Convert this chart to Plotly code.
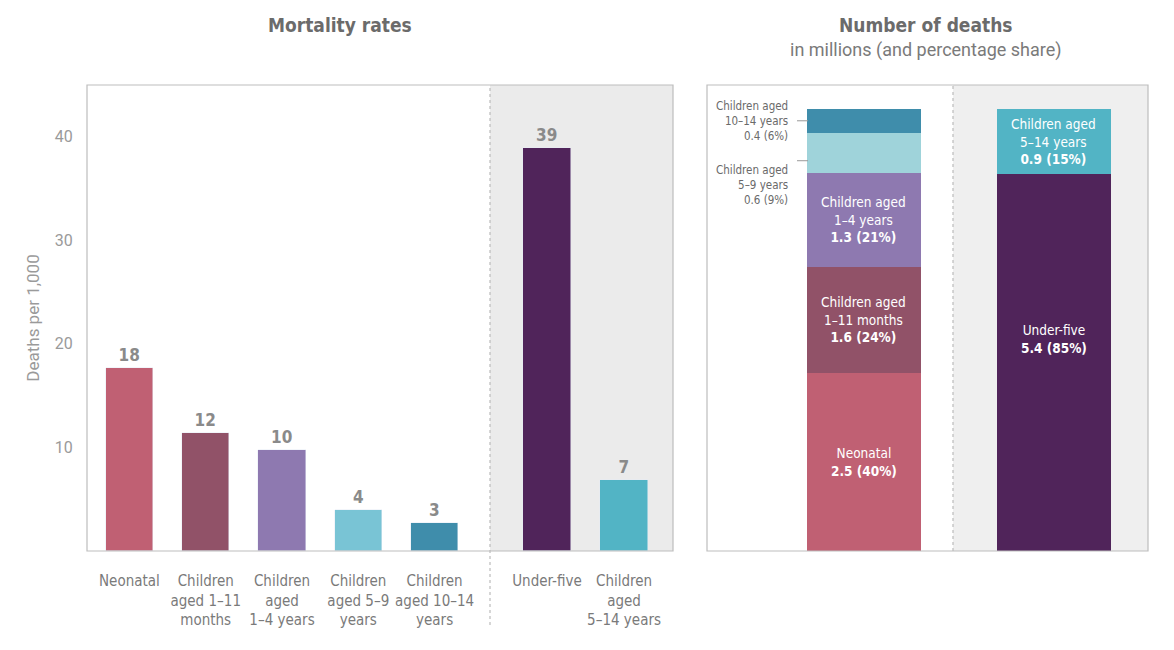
import plotly.graph_objects as go

W, H = 1174, 650
FONT = "Liberation Sans Narrow, DejaVu Sans Condensed, Roboto, sans-serif"

# ---- data: mortality rates (deaths per 1,000) ----
rate_cats_a = ["Neonatal", "Children<br>aged 1–11<br>months", "Children<br>aged<br>1–4 years",
               "Children<br>aged 5–9<br>years", "Children<br>aged 10–14<br>years"]
rate_vals_a = [17.7, 11.4, 9.8, 4.0, 2.7]
rate_lbls_a = ["18", "12", "10", "4", "3"]
rate_cols_a = ["#C06073", "#915268", "#8E79B0", "#79C4D5", "#3F8DAB"]

rate_cats_b = ["Under-five", "Children<br>aged<br>5–14 years"]
rate_vals_b = [38.9, 6.9]
rate_lbls_b = ["39", "7"]
rate_cols_b = ["#50245A", "#52B4C5"]

# ---- data: number of deaths (millions) ----
death_cats = ["Age groups", "Broad groups"]
seg_names_left = ["Neonatal", "Children aged 1–11 months", "Children aged 1–4 years",
                  "Children aged 5–9 years", "Children aged 10–14 years"]
seg_vals_left = [2.54, 1.51, 1.34, 0.57, 0.34]
seg_lbls_left = ["2.5 (40%)", "1.6 (24%)", "1.3 (21%)", "0.6 (9%)", "0.4 (6%)"]
seg_cols_left = ["#C06073", "#915268", "#8E79B0", "#9FD3DA", "#3F8DAB"]

seg_names_right = ["Under-five", "Children aged 5–14 years"]
seg_vals_right = [5.37, 0.93]
seg_lbls_right = ["5.4 (85%)", "0.9 (15%)"]
seg_cols_right = ["#50245A", "#52B4C5"]

def px(x):
    return x / W

def py(y):
    return 1 - y / H

fig = go.Figure()

# left panel, two groups
fig.add_trace(go.Bar(x=rate_cats_a, y=rate_vals_a, text=rate_lbls_a, marker_color=rate_cols_a,
                     width=0.62, textposition="outside", cliponaxis=False,
                     textfont=dict(family=FONT, size=17, color="#8A8A8A"),
                     texttemplate="<b>%{text}</b>", xaxis="x", yaxis="y", showlegend=False,
                     hoverinfo="x+y"))
fig.add_trace(go.Bar(x=rate_cats_b, y=rate_vals_b, text=rate_lbls_b, marker_color=rate_cols_b,
                     width=0.62, textposition="outside", cliponaxis=False,
                     textfont=dict(family=FONT, size=17, color="#8A8A8A"),
                     texttemplate="<b>%{text}</b>", xaxis="x2", yaxis="y2", showlegend=False,
                     hoverinfo="x+y"))

# right panel stacked
for name, v, c in zip(seg_names_left, seg_vals_left, seg_cols_left):
    fig.add_trace(go.Bar(x=[death_cats[0]], y=[v], name=name, marker_color=c, width=0.6,
                         marker_line_width=0, xaxis="x3", yaxis="y3", showlegend=False))
for name, v, c in zip(seg_names_right, seg_vals_right, seg_cols_right):
    fig.add_trace(go.Bar(x=[death_cats[1]], y=[v], name=name, marker_color=c, width=0.6,
                         marker_line_width=0, xaxis="x3", yaxis="y3", showlegend=False))

annotations = []
shapes = []

# inner labels in stacked bars
inner_left = {0: "Neonatal", 1: "Children aged<br>1–11 months", 2: "Children aged<br>1–4 years"}
base = 0
mids_left = []
for i, v in enumerate(seg_vals_left):
    mids_left.append(base + v / 2)
    base += v
for i, txt in inner_left.items():
    annotations.append(dict(x=death_cats[0], y=mids_left[i], xref="x3", yref="y3",
                            text=f"{txt}<br><b>{seg_lbls_left[i]}</b>", showarrow=False,
                            xanchor="center", yanchor="middle",
                            font=dict(family=FONT, size=13.5, color="white"), align="center"))

# outside labels for the two small segments
outer = {4: ("Children aged<br>10–14 years", "middle", 0),
         3: ("Children aged<br>5–9 years", "top", -8)}
for i, (txt, anc, ys) in outer.items():
    annotations.append(dict(x=px(790), y=mids_left[i], xref="paper", yref="y3",
                            text=f"{txt}<br>{seg_lbls_left[i]}", showarrow=False,
                            xanchor="right", yanchor=anc, yshift=ys, align="right",
                            font=dict(family=FONT, size=11.5, color="#6A6A6A")))
    yl = mids_left[i] if i == 4 else mids_left[i] - seg_vals_left[i] * 0.2
    shapes.append(dict(type="line", xref="paper", yref="y3", x0=px(797), x1=px(808),
                       y0=yl, y1=yl, line=dict(color="#999999", width=1)))

base = 0
inner_right = ["Under-five", "Children aged<br>5–14 years"]
for i, v in enumerate(seg_vals_right):
    annotations.append(dict(x=death_cats[1], y=base + v / 2, xref="x3", yref="y3",
                            text=f"{inner_right[i]}<br><b>{seg_lbls_right[i]}</b>",
                            showarrow=False, yshift=24 if i == 0 else 0,
                            xanchor="center", yanchor="middle",
                            font=dict(family=FONT, size=13.5, color="white"), align="center"))
    base += v

# titles
annotations.append(dict(x=px(340), y=py(25), xref="paper", yref="paper", showarrow=False,
                        xanchor="center", yanchor="middle",
                        text="<b>Mortality rates</b>",
                        font=dict(family=FONT, size=19, color="#6B6B6B")))
annotations.append(dict(x=px(926), y=py(25), xref="paper", yref="paper", showarrow=False,
                        xanchor="center", yanchor="middle",
                        text="<b>Number of deaths</b>",
                        font=dict(family=FONT, size=19, color="#6B6B6B")))
annotations.append(dict(x=px(926), y=py(50), xref="paper", yref="paper", showarrow=False,
                        xanchor="center", yanchor="middle",
                        text="in millions (and percentage share)",
                        font=dict(family="Roboto, sans-serif", size=18, color="#7A7A7A")))

# backgrounds, boxes, dashed separators
shapes.insert(0, dict(type="rect", xref="paper", yref="paper", x0=px(490), x1=px(673),
                      y0=py(551), y1=py(85), fillcolor="#EBEBEB", line_width=0, layer="below"))
shapes.insert(0, dict(type="rect", xref="paper", yref="paper", x0=px(953), x1=px(1148),
                      y0=py(551), y1=py(85), fillcolor="#EFEFEF", line_width=0, layer="below"))
shapes += [
    dict(type="rect", xref="paper", yref="paper", x0=px(87), x1=px(673), y0=py(551), y1=py(85),
         line=dict(color="#BDBDBD", width=1.2)),
    dict(type="rect", xref="paper", yref="paper", x0=px(707), x1=px(1148), y0=py(551), y1=py(85),
         line=dict(color="#BDBDBD", width=1.2)),
    dict(type="line", xref="paper", yref="paper", x0=px(490), x1=px(490), y0=py(625), y1=py(85),
         line=dict(color="#BBBBBB", width=1.2, dash="dot")),
    dict(type="line", xref="paper", yref="paper", x0=px(953), x1=px(953), y0=py(551), y1=py(85),
         line=dict(color="#BBBBBB", width=1.2, dash="dot")),
]

ydom = [py(551), py(85)]
tickfont = dict(family=FONT, size=15, color="#7A7A7A")
xcommon = dict(type="category", showgrid=False, zeroline=False, showline=False,
               ticks="outside", ticklen=16, tickcolor="rgba(0,0,0,0)",
               fixedrange=True)

fig.update_layout(
    width=W, height=H, margin=dict(l=0, r=0, t=0, b=0),
    paper_bgcolor="white", plot_bgcolor="rgba(0,0,0,0)",
    barmode="stack", bargap=0,
    font=dict(family=FONT),
    xaxis=dict(domain=[px(87), px(490)], range=[-0.556, 4.726], anchor="y",
               tickfont=tickfont, **xcommon),
    xaxis2=dict(domain=[px(490), px(673)], range=[-0.74, 1.636], anchor="y2",
                tickfont=tickfont, **xcommon),
    xaxis3=dict(domain=[px(707), px(1148)], range=[-0.826, 1.495], anchor="y3",
                showticklabels=False, **xcommon),
    yaxis=dict(domain=ydom, range=[0, 45], tickvals=[10, 20, 30, 40], showgrid=False,
               zeroline=False, showline=False, ticks="outside", ticklen=10,
               tickcolor="rgba(0,0,0,0)",
               tickfont=dict(family="Roboto, sans-serif", size=16, color="#9A9A9A"),
               title=dict(text="Deaths per 1,000", standoff=10,
                          font=dict(family="Roboto, sans-serif", size=17, color="#9A9A9A")),
               anchor="x", fixedrange=True),
    yaxis2=dict(domain=ydom, range=[0, 45], visible=False, anchor="x2", fixedrange=True),
    yaxis3=dict(domain=ydom, range=[0, 6.64], visible=False, anchor="x3", fixedrange=True),
    annotations=annotations, shapes=shapes,
)

fig.write_html("out.html")
